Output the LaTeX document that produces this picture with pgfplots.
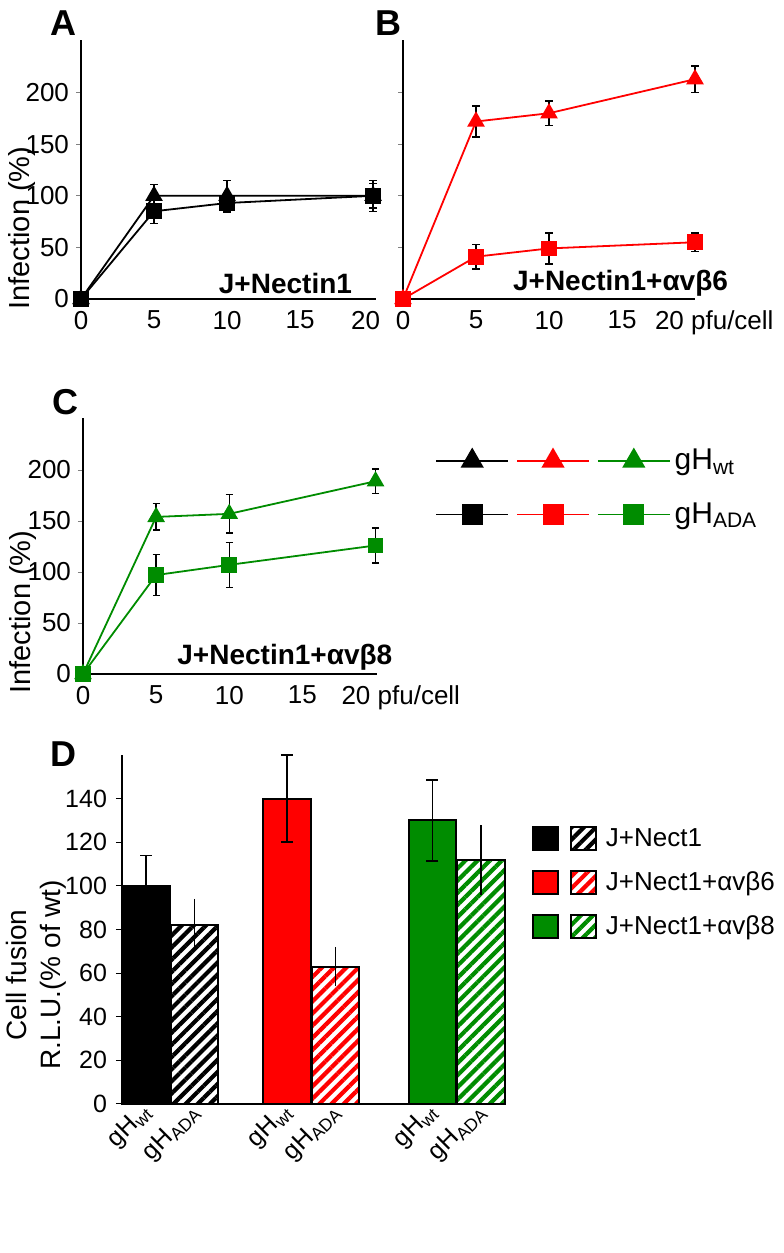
\documentclass[border=0pt]{standalone}
\usepackage{fontspec}
\setmainfont{Liberation Sans}
\usepackage{pgfplots}
\pgfplotsset{compat=1.18}
\usetikzlibrary{patterns.meta}
\definecolor{myred}{RGB}{255,0,0}
\definecolor{mygreen}{RGB}{0,140,0}
\newcommand\fs[1]{\fontsize{#1}{#1}\selectfont}
\tikzset{hatch/.style={pattern={Lines[angle=45,distance=4.3pt,line width=2.1pt]}, pattern color=#1}}

\pgfplotsset{
  infax/.style={
    scale only axis, clip=false,
    axis x line=bottom, axis y line=left,
    axis line style={-, line width=1pt, black},
    xmin=0, ymin=0, ymax=251,
    xtick={0,5,10,15,20},
    ytick={0,50,100,150,200},
    xtick style={draw=none},
    ytick style={gray, line width=0.4pt},
    tick align=outside, major tick length=2.5pt,
    tick label style={font=\fs{13}},
    /pgf/number format/assume math mode=true,
  },
  ln/.style={line width=0.9pt, #1, mark options={solid, fill=#1, draw=#1},
    error bars/y dir=both, error bars/y explicit,
    error bars/error bar style={black, line width=0.75pt},
    error bars/error mark options={black, line width=0.75pt, mark size=1.8pt, rotate=90}},
  tri/.style={mark=triangle*, mark size=4.2pt},
  sq/.style={mark=square*, mark size=3.5pt},
  bb/.style={ybar, /pgf/bar shift=0pt, /pgf/bar width=0.98, draw=black, line width=1pt,
    error bars/y explicit,
    error bars/error bar style={black, line width=0.75pt},
    error bars/error mark options={black, line width=0.75pt, mark size=3pt, rotate=90}},
}

\begin{document}
\begin{tikzpicture}
\useasboundingbox (0,0) rectangle (391.5pt,626.5pt);

% Panel labels
\node[font=\bfseries\fs{18}] at (31.5pt,615pt) {A};
\node[font=\bfseries\fs{18}] at (194pt,615pt) {B};
\node[font=\bfseries\fs{18}] at (32.5pt,425.5pt) {C};
\node[font=\bfseries\fs{18}] at (31.5pt,249.5pt) {D};

% ---------- A ----------
\begin{axis}[infax, at={(40.5pt,477pt)}, anchor=south west,
  width=147.5pt, height=129.5pt, xmax=20.2,
  yticklabels={0,50,100,150,200},
  xticklabels={0,5,10,15,{\makebox[0pt][l]{\hspace*{-11pt}20}}},
  ylabel={Infection (\%)},
  ylabel style={at={(axis description cs:-0.2,0.274)}, anchor=center, font=\fs{14.5}}]
\addplot[ln=black, tri] coordinates {(0,0) +- (0,0) (5,100) +- (0,11) (10,100) +- (0,15) (20,100) +- (0,15)};
\addplot[ln=black, sq] coordinates {(0,0) +- (0,0) (5,85) +- (0,12) (10,93) +- (0,9) (20,100) +- (0,12)};
\node[font=\bfseries\fs{14}] at (axis cs:14,15.5) {J+Nectin1};
\end{axis}

% ---------- B ----------
\begin{axis}[infax, at={(201.5pt,477pt)}, anchor=south west,
  width=146pt, height=129.5pt, xmax=20,
  yticklabels={},
  xticklabels={0,5,10,15,{\makebox[0pt][l]{\hspace*{-20pt}20\ pfu/cell}}}]
\addplot[ln=myred, tri] coordinates {(0,0) +- (0,0) (5,172) +- (0,15) (10,180) +- (0,12) (20,213) +- (0,13)};
\addplot[ln=myred, sq] coordinates {(0,0) +- (0,0) (5,41) +- (0,12) (10,49) +- (0,15) (20,55) +- (0,9)};
\node[font=\bfseries\fs{14}] at (axis cs:14.9,15.5) {J+Nectin1+αvβ6};
\end{axis}

% ---------- C ----------
\begin{axis}[infax, at={(41.5pt,289.5pt)}, anchor=south west,
  width=147pt, height=128pt, xmax=20.1,
  yticklabels={0,50,100,150,200},
  xticklabels={0,5,10,15,{\makebox[0pt][l]{\hspace*{-17pt}20\ pfu/cell}}},
  ylabel={Infection (\%)},
  ylabel style={at={(axis description cs:-0.204,0.242)}, anchor=center, font=\fs{14.5}},
  legend columns=3,
  legend image code/.code={\draw[mark repeat=2,mark phase=2,#1] plot coordinates {(0pt,0pt) (18pt,0pt) (36pt,0pt)};},
  legend style={at={(axis description cs:1.197,0.88)}, anchor=north west, draw=none, fill=none,
    inner sep=0pt, row sep=15pt, font=\fs{15},
    /tikz/every odd column/.append style={column sep=0pt},
    /tikz/every even column/.append style={column sep=2.5pt},
    nodes={inner sep=0pt, anchor=west}},
  ]
\addplot[ln=mygreen, tri, forget plot] coordinates {(0,0) +- (0,0) (5,154) +- (0,13) (10,157) +- (0,19) (20,189) +- (0,12)};
\addplot[ln=mygreen, sq, forget plot] coordinates {(0,0) +- (0,0) (5,97) +- (0,20) (10,107) +- (0,22) (20,126) +- (0,17)};
\node[font=\bfseries\fs{14}] at (axis cs:13.8,16.7) {J+Nectin1+αvβ8};
\addlegendimage{black, line width=0.9pt, mark=triangle*, mark size=5.8pt, mark options={solid, fill=black}}
\addlegendentry{}
\addlegendimage{myred, line width=0.9pt, mark=triangle*, mark size=5.8pt, mark options={solid, fill=myred}}
\addlegendentry{}
\addlegendimage{mygreen, line width=0.9pt, mark=triangle*, mark size=5.8pt, mark options={solid, fill=mygreen}}
\addlegendentry{\hspace{2pt}gH\textsubscript{wt}}
\addlegendimage{black, line width=0.9pt, mark=square*, mark size=4.8pt, mark options={solid, fill=black}}
\addlegendentry{}
\addlegendimage{myred, line width=0.9pt, mark=square*, mark size=4.8pt, mark options={solid, fill=myred}}
\addlegendentry{}
\addlegendimage{mygreen, line width=0.9pt, mark=square*, mark size=4.8pt, mark options={solid, fill=mygreen}}
\addlegendentry{\hspace{2pt}gH\textsubscript{ADA}}
\end{axis}

% ---------- D ----------
\begin{axis}[scale only axis, clip=false, at={(61pt,74.5pt)}, anchor=south west,
  width=191.5pt, height=174.5pt,
  axis x line=bottom, axis y line=left, axis line style={-, line width=1pt, black},
  xmin=0, xmax=7.9, ymin=0, ymax=160,
  ytick={0,20,40,60,80,100,120,140},
  yticklabels={0,20,40,60,80,100,120,140},
  xtick={0.5,1.5,3.4,4.4,6.4,7.4},
  xticklabels={gH\textsubscript{wt},gH\textsubscript{ADA},gH\textsubscript{wt},gH\textsubscript{ADA},gH\textsubscript{wt},gH\textsubscript{ADA}},
  xtick style={draw=none}, ytick style={black, line width=0.5pt},
  tick align=outside, major tick length=3pt,
  yticklabel style={font=\fs{12.5}, xshift=-1pt},
  xticklabel style={font=\fs{12.5}, rotate=45, anchor=north east, yshift=9pt, xshift=4.5pt},
  /pgf/number format/assume math mode=true,
  ylabel={Cell fusion\\[3pt]R.L.U.(\% of wt)},
  ylabel style={align=center, font=\fs{14}, at={(axis description cs:-0.2245,0.37)}, anchor=center},
  legend columns=2,
  legend style={at={(axis description cs:1.0705,0.797)}, anchor=north west, draw=none, fill=none,
    inner sep=0pt, row sep=9.5pt, font=\fs{13},
    /tikz/every odd column/.append style={column sep=4.5pt},
    /tikz/every even column/.append style={column sep=0pt},
    nodes={inner sep=0pt, anchor=west}},
  ]
\addplot[bb, fill=black, forget plot, error bars/y dir=plus] coordinates {(0.5,100) +- (0,14)};
\addplot[bb, hatch=black, forget plot, error bars/y dir=both, error bars/error mark=none] coordinates {(1.5,82) +- (0,12)};
\addplot[bb, fill=myred, forget plot, error bars/y dir=both] coordinates {(3.4,140) +- (0,20)};
\addplot[bb, hatch=myred, forget plot, error bars/y dir=both, error bars/error mark=none] coordinates {(4.4,63) +- (0,9)};
\addplot[bb, fill=mygreen, forget plot, error bars/y dir=both] coordinates {(6.4,130) +- (0,18.5)};
\addplot[bb, hatch=mygreen, forget plot, error bars/y dir=both, error bars/error mark=none] coordinates {(7.4,112) +- (0,16)};
\addlegendimage{legend image code/.code={\draw[black,line width=0.9pt,fill=black] (0pt,-5.75pt) rectangle (12.5pt,5.75pt);}}
\addlegendentry{}
\addlegendimage{legend image code/.code={\draw[black,line width=0.9pt,hatch=black] (0pt,-5.75pt) rectangle (12.5pt,5.75pt);}}
\addlegendentry{J+Nect1}
\addlegendimage{legend image code/.code={\draw[black,line width=0.9pt,fill=myred] (0pt,-5.75pt) rectangle (12.5pt,5.75pt);}}
\addlegendentry{}
\addlegendimage{legend image code/.code={\draw[black,line width=0.9pt,hatch=myred] (0pt,-5.75pt) rectangle (12.5pt,5.75pt);}}
\addlegendentry{J+Nect1+αvβ6}
\addlegendimage{legend image code/.code={\draw[black,line width=0.9pt,fill=mygreen] (0pt,-5.75pt) rectangle (12.5pt,5.75pt);}}
\addlegendentry{}
\addlegendimage{legend image code/.code={\draw[black,line width=0.9pt,hatch=mygreen] (0pt,-5.75pt) rectangle (12.5pt,5.75pt);}}
\addlegendentry{J+Nect1+αvβ8}
\end{axis}
\end{tikzpicture}
\end{document}
